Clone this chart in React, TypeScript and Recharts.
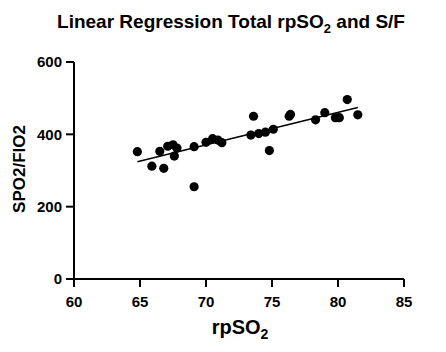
import { ScatterChart, Scatter, XAxis, YAxis } from "recharts"

// rpSO2 readings and matching SpO2/FiO2 ratios
const rpso2 = [
  64.8, 65.9, 66.5, 66.8, 67.1, 67.5, 67.8, 67.6, 69.1, 69.1, 70.0, 70.5, 70.9, 71.2,
  73.4, 73.6, 74.0, 74.5, 75.1, 74.8, 76.3, 76.4, 78.3, 79.0, 79.8, 80.1, 80.7, 81.5,
]
const sfRatio = [
  352, 312, 353, 306, 367, 371, 362, 340, 366, 255, 378, 388, 384, 377,
  398, 450, 402, 406, 414, 355, 450, 455, 440, 460, 446, 446, 496, 454,
]

// fitted line end points
const fitX = [64.8, 81.5]
const fitY = [324, 474]

const xTicks = [60, 65, 70, 75, 80, 85]
const yTicks = [0, 200, 400, 600]

const FONT = "'Liberation Sans', Arial, Helvetica, sans-serif"

const points = rpso2.map((x, i) => ({ x, y: sfRatio[i] }))
const fitLine = fitX.map((x, i) => ({ x, y: fitY[i] }))

const tickStyle = { fill: "#000", fontSize: 15, fontWeight: 700, fontFamily: FONT }
const axisLine = { stroke: "#000", strokeWidth: 2 }

export default function App() {
  return (
    <div style={{ position: "absolute", left: 0, top: 0, width: 446, height: 352, background: "#fff" }}>
      <ScatterChart width={446} height={352} margin={{ top: 62, right: 42, bottom: 0, left: 0 }}>
        <XAxis
          type="number"
          dataKey="x"
          domain={[60, 85]}
          ticks={xTicks}
          tick={tickStyle}
          tickSize={8}
          tickMargin={9}
          axisLine={axisLine}
          tickLine={axisLine}
          height={73}
          allowDataOverflow
        />
        <YAxis
          type="number"
          dataKey="y"
          domain={[0, 600]}
          ticks={yTicks}
          tick={tickStyle}
          tickSize={8}
          tickMargin={4}
          axisLine={axisLine}
          tickLine={axisLine}
          width={74}
        />
        <Scatter
          data={fitLine}
          line={{ stroke: "#000", strokeWidth: 1.5 }}
          shape={() => <g />}
          isAnimationActive={false}
        />
        <Scatter
          data={points}
          shape={(p: any) => <circle cx={p.cx} cy={p.cy} r={4.6} fill="#000" />}
          isAnimationActive={false}
        />
      </ScatterChart>
      <svg width={446} height={352} style={{ position: "absolute", left: 0, top: 0, pointerEvents: "none" }}>
        <text x={231} y={28} textAnchor="middle" fontFamily={FONT} fontWeight={700} fontSize={19} fill="#000">
          Linear Regression Total rpSO
          <tspan fontSize={13} dy={5}>2</tspan>
          <tspan dy={-5}> and S/F</tspan>
        </text>
        <text
          x={0}
          y={0}
          transform="translate(25 169) rotate(-90)"
          textAnchor="middle"
          fontFamily={FONT}
          fontWeight={700}
          fontSize={17}
          fill="#000"
        >
          SPO2/FIO2
        </text>
        <text x={240} y={334} textAnchor="middle" fontFamily={FONT} fontWeight={700} fontSize={20} fill="#000">
          rpSO
          <tspan fontSize={14} dy={5}>2</tspan>
        </text>
      </svg>
    </div>
  )
}
